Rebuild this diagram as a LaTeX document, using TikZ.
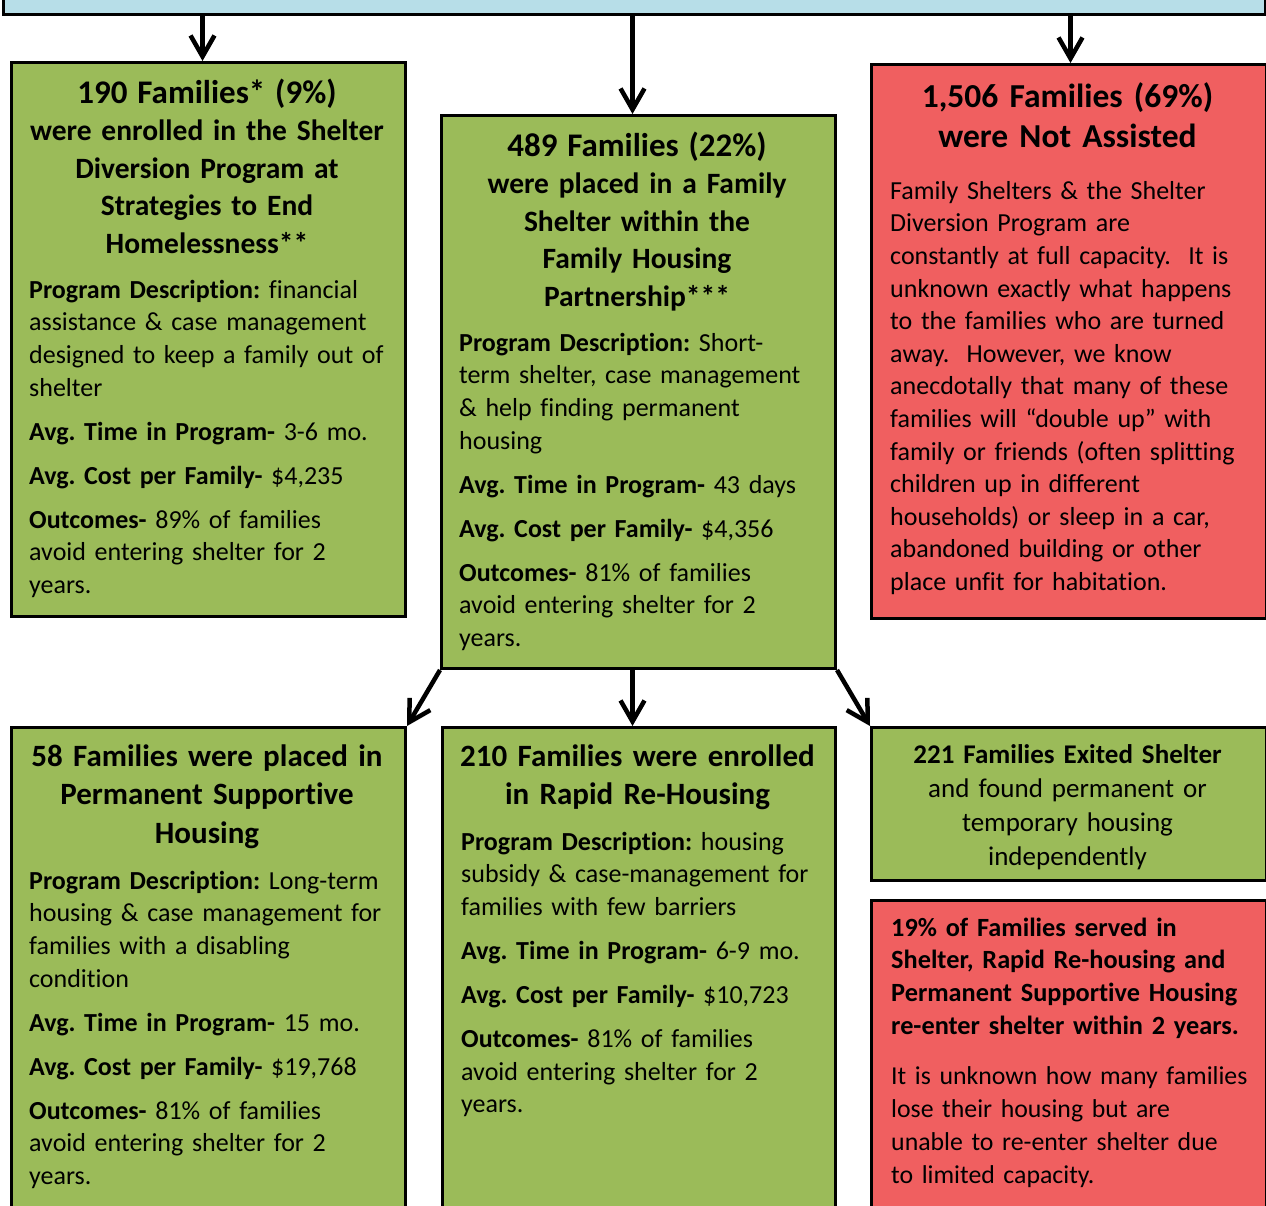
\documentclass[tikz,border=0pt]{standalone}
\usepackage{fontspec}
\setmainfont{Carlito}[Ligatures=NoCommon]
\usetikzlibrary{arrows.meta}

\definecolor{boxgreen}{HTML}{9BBB59}
\definecolor{boxred}{HTML}{F05F60}
\definecolor{boxblue}{HTML}{B7DEE8}

\newcommand{\greenbox}{\node[flowbox, fill=boxgreen]}
\newcommand{\redbox}{\node[flowbox, fill=boxred]}
\newcommand{\headtxt}{\node[headtext]}
\newcommand{\bodytxt}{\node[bodytext]}
\newcommand{\itemgap}{\\[11.5pt]}
\newcommand{\firstln}[1]{{\fontsize{33}{37.5}\selectfont #1}}

\begin{document}
\frenchspacing
\begin{tikzpicture}[x=1pt, y=-1pt,
    flowbox/.style={draw=black, line width=3pt, anchor=north west, inner sep=0pt},
    boxsize/.style 2 args={minimum width=#1pt, minimum height=#2pt},
    headtext/.style={anchor=north, inner sep=0pt, text width=390pt, align=center,
        font=\fontsize{29.5}{37.5}\selectfont\bfseries, execute at begin node=\strut},
    bodytext/.style={anchor=north west, inner sep=0pt, text width=380pt, align=left,
        font=\fontsize{26}{32.6}\selectfont, execute at begin node=\strut},
    arr/.style={line width=4.5pt, -{Straight Barb[length=21pt, width=24pt]}}]
            \useasboundingbox (0,0) rectangle (1266,1205);
            \clip (0,0) rectangle (1266,1205);

            % boxes
            \node[flowbox, fill=boxblue, boxsize={1262}{50}] (intake) at (2,-37) {};
            \greenbox[boxsize={394}{554}] (divert) at (10,61) {};
            \greenbox[boxsize={394}{553}] (famshelter) at (440,114) {};
            \redbox[boxsize={395}{554}] (notassist) at (870,63) {};
            \greenbox[boxsize={394}{520}] (psh) at (10,726) {};
            \greenbox[boxsize={393}{520}] (rrh) at (441,726) {};
            \greenbox[boxsize={395}{153}] (exited) at (870,726) {};
            \redbox[boxsize={395}{350}] (reenter) at (870,899) {};

            % titles
            \headtxt (divertT) at (207,76.75) {\firstln{190 Families* (9\%)}\\ were enrolled in the Shelter\\
                Diversion Program at\\ Strategies to End\\ Homelessness**};
            \headtxt (famshelterT) at (637,129.75) {\firstln{489 Families (22\%)}\\ were placed in a Family\\
                Shelter within the\\ Family Housing\\ Partnership***};
            \headtxt[font=\fontsize{33.5}{40}\selectfont\bfseries] (notassistT) at (1067.5,79)
                {1,506 Families (69\%)\\ were Not Assisted};
            \headtxt[font=\fontsize{31}{38.5}\selectfont\bfseries] (pshT) at (207,739)
                {58 Families were placed in\\ Permanent Supportive\\ Housing};
            \headtxt[font=\fontsize{31}{38.5}\selectfont\bfseries] (rrhT) at (637.5,739)
                {210 Families were enrolled\\ in Rapid Re-Housing};
            \headtxt[font=\fontsize{27}{34}\selectfont] (exitedT) at (1067.5,739.2)
                {\textbf{221 Families Exited Shelter}\\ and found permanent or\\
                temporary housing\\ independently};

            % texts
            \bodytxt (divertB) at (29,275.2) {\textbf{Program Description:} financial\\
                assistance \& case management\\ designed to keep a family out of\\ shelter\itemgap
                \textbf{Avg. Time in Program-} 3-6 mo.\itemgap
                \textbf{Avg. Cost per Family-} \$4,235\itemgap
                \textbf{Outcomes-} 89\% of families\\ avoid entering shelter for 2\\ years.};
            \bodytxt (famshelterB) at (459,328.2) {\textbf{Program Description:} Short-\\
                term shelter, case management\\ \& help finding permanent\\ housing\itemgap
                \textbf{Avg. Time in Program-} 43 days\itemgap
                \textbf{Avg. Cost per Family-} \$4,356\itemgap
                \textbf{Outcomes-} 81\% of families\\ avoid entering shelter for 2\\ years.};
            \bodytxt (notassistB) at (890,176.2) {Family Shelters \& the Shelter\\
                Diversion Program are\\ constantly at full capacity.\ \ It is\\
                unknown exactly what happens\\ to the families who are turned\\
                away.\ \ However, we know\\ anecdotally that many of these\\
                families will “double up” with\\ family or friends (often splitting\\
                children up in different\\ households) or sleep in a car,\\
                abandoned building or other\\ place unfit for habitation.};
            \bodytxt (pshB) at (29,866.2) {\textbf{Program Description:} Long-term\\
                housing \& case management for\\ families with a disabling\\ condition\itemgap
                \textbf{Avg. Time in Program-} 15 mo.\itemgap
                \textbf{Avg. Cost per Family-} \$19,768\itemgap
                \textbf{Outcomes-} 81\% of families\\ avoid entering shelter for 2\\ years.};
            \bodytxt (rrhB) at (461,827.2) {\textbf{Program Description:} housing\\
                subsidy \& case-management for\\ families with few barriers\itemgap
                \textbf{Avg. Time in Program-} 6-9 mo.\itemgap
                \textbf{Avg. Cost per Family-} \$10,723\itemgap
                \textbf{Outcomes-} 81\% of families\\ avoid entering shelter for 2\\ years.};
            \bodytxt[font=\fontsize{26.3}{32.7}\selectfont\bfseries] (reenterT) at (891,913)
                {19\% of Families served in\\ Shelter, Rapid Re-housing and\\
                Permanent Supportive Housing\\ re-enter shelter within 2 years.};
            \bodytxt[font=\fontsize{25.8}{33}\selectfont] (reenterB) at (891,1061)
                {It is unknown how many families\\ lose their housing but are\\
                unable to re-enter shelter due\\ to limited capacity.};

            % arrows
            \draw[arr]
                ([xshift=-6pt]divert.north |- intake.south) -- ([xshift=-6pt]divert.north);
            \draw[arr]
                ([xshift=-6pt]famshelter.north |- intake.south) -- ([xshift=-6pt]famshelter.north);
            \draw[arr]
                ([xshift=1.5pt]notassist.north |- intake.south) -- ([xshift=1.5pt]notassist.north);
            \draw[arr]
                (famshelter.south west) -- (psh.north east);
            \draw[arr]
                ([xshift=-6pt]famshelter.south) -- ([xshift=-6.5pt]rrh.north);
            \draw[arr]
                (famshelter.south east) -- (exited.north west);
\end{tikzpicture}
\end{document}
